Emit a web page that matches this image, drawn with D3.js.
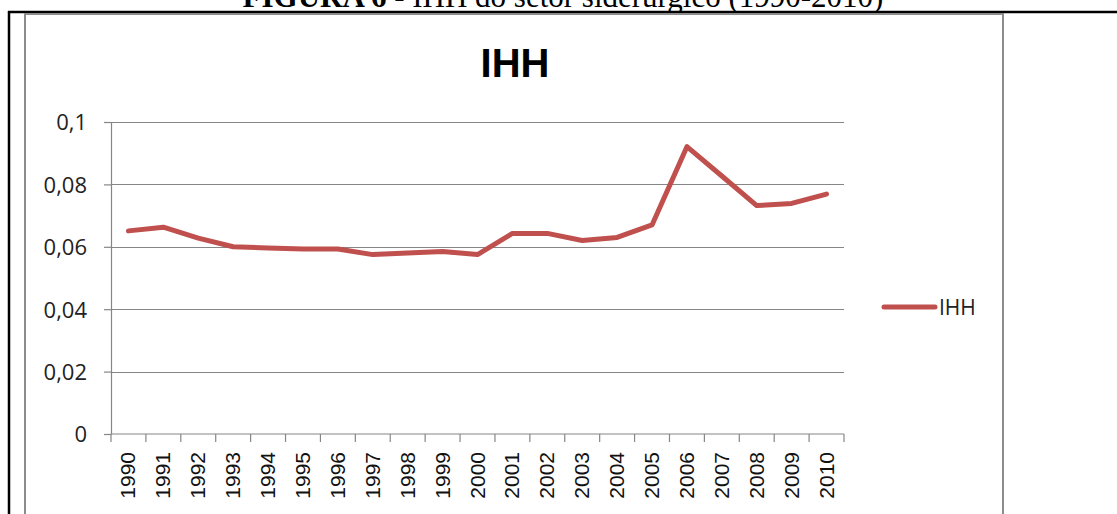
<!DOCTYPE html>
<html>
<head>
<meta charset="utf-8">
<script src="https://cdn.jsdelivr.net/npm/d3@7"></script>
<style>
  body { margin: 0; background: #fff; }
  svg { display: block; }
</style>
</head>
<body>
<script>
// Chart data
var years = ["1990", "1991", "1992", "1993", "1994", "1995", "1996", "1997", "1998", "1999", "2000",
             "2001", "2002", "2003", "2004", "2005", "2006", "2007", "2008", "2009", "2010"];
var ihh = [0.0651, 0.0663, 0.0628, 0.0600, 0.0596, 0.0593, 0.0593, 0.0575, 0.0580, 0.0585, 0.0575,
           0.0643, 0.0643, 0.0620, 0.0630, 0.0670, 0.0921, 0.0827, 0.0732, 0.0739, 0.0769];
var yTicks = [0, 0.02, 0.04, 0.06, 0.08, 0.1];
var seriesName = "IHH";
var chartTitle = "IHH";

var w = 1117;
var h = 514;

// plot area (don't call it "top", that's window.top)
var plotLeft = 111, plotRight = 844, plotTop = 122, plotBottom = 434;
var red = "#c0504d";
var grid = "#868686";

var svg = d3.select("body").append("svg").attr("width", w).attr("height", h);

// page caption (cut off at the top, as in the scan)
var cap = svg.append("text")
  .attr("x", 563).attr("y", 7)
  .attr("text-anchor", "middle")
  .style("font-family", "'Liberation Serif', 'Times New Roman', serif")
  .style("font-size", "31px");
cap.append("tspan").style("font-weight", "bold").text("FIGURA 6");
cap.append("tspan").text(" - IHH do setor siderúrgico (1990-2010)");

// black table border
svg.append("line").attr("x1", 8).attr("x2", w).attr("y1", 12).attr("y2", 12)
  .attr("stroke", "#000").attr("stroke-width", 2.5);
svg.append("line").attr("x1", 9).attr("x2", 9).attr("y1", 11).attr("y2", h)
  .attr("stroke", "#000").attr("stroke-width", 2.5);

// chart frame
svg.append("rect").attr("x", 25).attr("y", 14).attr("width", 978).attr("height", 520)
  .attr("fill", "none").attr("stroke", "#8c8c8c").attr("stroke-width", 2);

// title
svg.append("text").attr("x", 515).attr("y", 77)
  .attr("text-anchor", "middle")
  .style("font-family", "'Liberation Sans', Arial, sans-serif")
  .style("font-weight", "bold").style("font-size", "40px")
  .text(chartTitle);

var x = d3.scaleBand().domain(years).range([plotLeft, plotRight]);
var y = d3.scaleLinear().domain([0, 0.1]).range([plotBottom, plotTop]);

// gridlines
svg.selectAll("line.grid").data(yTicks.slice(1)).enter().append("line")
  .attr("class", "grid")
  .attr("x1", plotLeft).attr("x2", plotRight)
  .attr("y1", function(d){ return Math.round(y(d)) + 0.5; })
  .attr("y2", function(d){ return Math.round(y(d)) + 0.5; })
  .attr("stroke", grid).attr("stroke-width", 1.2);

// y axis
var yAxis = svg.append("g").attr("transform", "translate(" + plotLeft + ",0)")
  .call(d3.axisLeft(y).tickValues(yTicks).tickSize(7).tickSizeOuter(0)
    .tickFormat(function(d){ return String(d).replace(".", ","); }));
yAxis.select(".domain").attr("stroke", grid).attr("stroke-width", 1.2);
yAxis.selectAll(".tick line").attr("stroke", grid).attr("stroke-width", 1.2);
yAxis.selectAll(".tick text")
  .attr("x", -24).attr("dy", "0.36em")
  .style("font-family", "'Open Sans', sans-serif").style("font-size", "22px")
  .attr("fill", "#222");

// x axis: ticks on category boundaries
var xAxis = svg.append("g").attr("transform", "translate(0," + plotBottom + ")");
xAxis.append("line").attr("x1", plotLeft).attr("x2", plotRight).attr("y1", 0).attr("y2", 0)
  .attr("stroke", grid).attr("stroke-width", 1.2);
var bounds = years.map(function(d){ return x(d); }).concat([x(years[years.length - 1]) + x.bandwidth()]);
xAxis.selectAll("line.tk").data(bounds).enter().append("line")
  .attr("class", "tk")
  .attr("x1", function(d){ return d; }).attr("x2", function(d){ return d; })
  .attr("y1", 0).attr("y2", 8)
  .attr("stroke", grid).attr("stroke-width", 1.2);
xAxis.selectAll("text").data(years).enter().append("text")
  .attr("transform", function(d){ return "translate(" + (x(d) + x.bandwidth() / 2 + 7) + ",18) rotate(-90)"; })
  .attr("text-anchor", "end")
  .style("font-family", "'Liberation Sans', Arial, sans-serif").style("font-size", "21px")
  .attr("fill", "#111")
  .text(function(d){ return d; });

// series line
var line = d3.line()
  .x(function(d, i){ return x(years[i]) + x.bandwidth() / 2; })
  .y(function(d){ return y(d); });
svg.append("path").datum(ihh)
  .attr("d", line)
  .attr("fill", "none").attr("stroke", red).attr("stroke-width", 5)
  .attr("stroke-linejoin", "round").attr("stroke-linecap", "round");

// legend
svg.append("line").attr("x1", 884).attr("x2", 935).attr("y1", 307).attr("y2", 307)
  .attr("stroke", red).attr("stroke-width", 5).attr("stroke-linecap", "round");
svg.append("text").attr("x", 939).attr("y", 307).attr("dy", "0.36em")
  .style("font-family", "'Open Sans', sans-serif").style("font-size", "21px")
  .attr("fill", "#222")
  .text(seriesName);
</script>
</body>
</html>
